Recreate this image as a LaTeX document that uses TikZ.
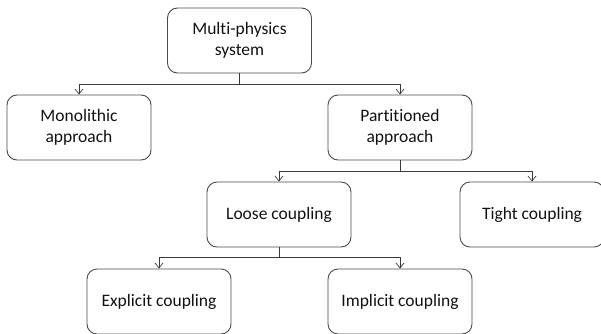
\documentclass[tikz,border=0pt]{standalone}
\usepackage{xcolor}
\usepackage{fontspec}
\setmainfont[Ligatures=NoCommon]{Carlito}
\usepackage{tikz}
\usetikzlibrary{
  arrows.meta,
  positioning
}
\definecolor{mpLine}{HTML}{4A4A4A}
\definecolor{mpLink}{HTML}{3A3A3A}
\definecolor{mpText}{HTML}{111111}
\tikzset{
  mpnode/.style={
    draw=mpLine, rounded corners=10pt, minimum width=144pt, minimum height=65pt,
    text=mpText, align=center, line width=0.9pt,
    font=\fontsize{17.5}{21}\selectfont
  },
  branch/.style={-{Straight Barb[length=5pt,width=8pt]}, draw=mpLink, line width=0.7pt}
}
\begin{document}
\begin{tikzpicture}[x=1pt,y=1pt]
  \useasboundingbox (0,0) rectangle (601,333);
  \node[mpnode] (sys) at (239.5,292.5) {Multi-physics\\system};
  \node[mpnode] (mono) at (79,205.5) {Monolithic\\approach};
  \node[mpnode] (part) at (400,205.5) {Partitioned\\approach};
  \node[mpnode] (loose) at (279,118.5) {Loose coupling};
  \node[mpnode] (tight) at (532,118.5) {Tight coupling};
  \node[mpnode] (expl) at (159,31.5) {Explicit coupling};
  \node[mpnode] (impl) at (400,31.5) {Implicit coupling};
  % branches
  \draw[branch] (sys.south) -- ++(0,-11) -| (mono.north);
  \draw[branch] (sys.south) -- ++(0,-11) -| (part.north);
  \draw[branch] (part.south) -- ++(0,-10.5) -| (loose.north);
  \draw[branch] (part.south) -- ++(0,-10.5) -| (tight.north);
  \draw[branch] (loose.south) -- ++(0,-10) -| (expl.north);
  \draw[branch] (loose.south) -- ++(0,-10) -| (impl.north);
\end{tikzpicture}
\end{document}
